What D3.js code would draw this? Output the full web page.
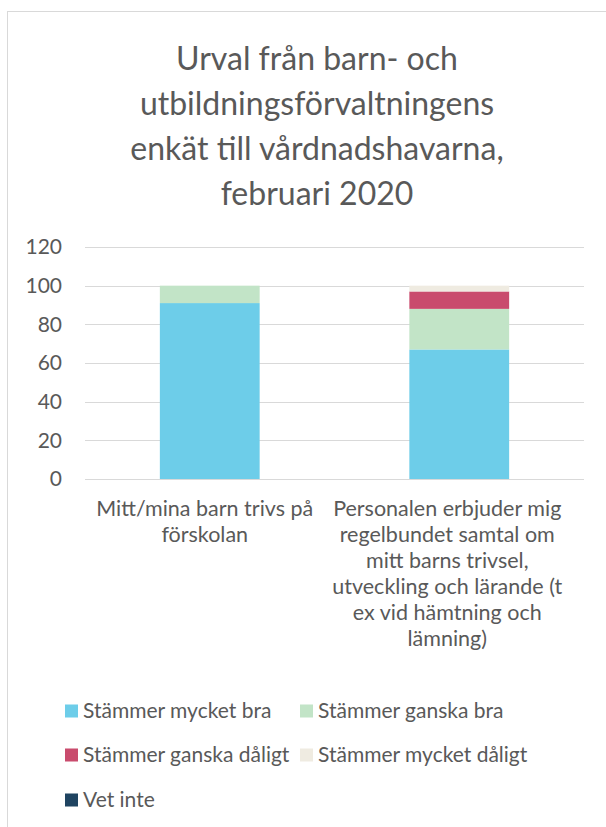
<!DOCTYPE html>
<html>
<head>
<meta charset="utf-8">
<script src="https://cdn.jsdelivr.net/npm/d3@7"></script>
<style>
  html, body { margin: 0; padding: 0; background: #fff; }
  svg { display: block; font-family: Lato, "Open Sans", sans-serif; }
</style>
</head>
<body>
<svg id="chart" width="606" height="827"></svg>
<script>
// ---- data ----
const titleLines = ["Urval från barn- och", "utbildningsförvaltningens", "enkät till vårdnadshavarna,", "februari 2020"];
const categories = ["Mitt/mina barn trivs på förskolan",
  "Personalen erbjuder mig regelbundet samtal om mitt barns trivsel, utveckling och lärande (t ex vid hämtning och lämning)"];
const categoryLines = [
  ["Mitt/mina barn trivs på", "förskolan"],
  ["Personalen erbjuder mig", "regelbundet samtal om", "mitt barns trivsel,", "utveckling och lärande (t", "ex vid hämtning och", "lämning)"]
];
const seriesNames = ["Stämmer mycket bra", "Stämmer ganska bra", "Stämmer ganska dåligt", "Stämmer mycket dåligt", "Vet inte"];
const stammerMycketBra    = [91, 67];
const stammerGanskaBra    = [9, 21];
const stammerGanskaDaligt = [0, 9];
const stammerMycketDaligt = [0, 3];
const vetInte             = [0, 0];
const seriesColors = ["#6DCDE9", "#C2E4C7", "#C94B6D", "#EFEBE1", "#1F4461"];
const yTicks = [0, 20, 40, 60, 80, 100, 120];

// ---- build table ----
const seriesValues = [stammerMycketBra, stammerGanskaBra, stammerGanskaDaligt, stammerMycketDaligt, vetInte];
const table = categories.map((c, i) => {
  const row = { category: c };
  seriesNames.forEach((s, j) => row[s] = seriesValues[j][i]);
  return row;
});

const svg = d3.select("#chart");
const textColor = "#595959";
const gridColor = "#d9d9d9";

// chart frame
svg.append("rect")
  .attr("x", 7.5).attr("y", 11.5)
  .attr("width", 800).attr("height", 900)
  .attr("fill", "none").attr("stroke", gridColor).attr("stroke-width", 1);

// title
const title = svg.append("text")
  .attr("text-anchor", "middle")
  .attr("fill", textColor)
  .style("font-size", "32px");
titleLines.forEach((l, i) => {
  title.append("tspan").attr("x", 317).attr("y", 70 + i * 45).text(l);
});

// scales
const x = d3.scaleBand().domain(categories).range([85, 584]).paddingInner(0.6).paddingOuter(0.3);
const y = d3.scaleLinear().domain([0, 120]).range([479, 247]);

// grid
svg.append("g").selectAll("line").data(yTicks).join("line")
  .attr("x1", 85).attr("x2", 584)
  .attr("y1", d => Math.round(y(d)) + 0.5).attr("y2", d => Math.round(y(d)) + 0.5)
  .attr("stroke", gridColor).attr("stroke-width", 1);

// y axis labels
const yAxis = d3.axisLeft(y).tickValues(yTicks).tickSize(0).tickPadding(0);
const yg = svg.append("g").attr("transform", "translate(62,0)").call(yAxis);
yg.select(".domain").remove();
yg.selectAll("text").attr("fill", textColor).style("font-size", "21px").style("font-family", "Lato, sans-serif");

// stacked bars
const stack = d3.stack().keys(seriesNames);
const stacked = stack(table);
svg.append("g").selectAll("g").data(stacked).join("g")
  .attr("fill", (d, i) => seriesColors[i])
  .selectAll("rect").data(d => d).join("rect")
  .attr("x", d => x(d.data.category))
  .attr("width", x.bandwidth())
  .attr("y", d => y(d[1]))
  .attr("height", d => Math.max(0, y(d[0]) - y(d[1])));

// category labels
const labelShift = [-5, -12];
categories.forEach((c, i) => {
  const t = svg.append("text")
    .attr("text-anchor", "middle")
    .attr("fill", textColor)
    .style("font-size", "21.5px");
  categoryLines[i].forEach((l, k) => {
    t.append("tspan")
      .attr("x", x(c) + x.bandwidth() / 2 + labelShift[i])
      .attr("y", 516 + k * 26)
      .text(l);
  });
});

// legend
const legendPos = [[65, 711], [300, 711], [65, 755], [300, 755], [65, 800]];
const lg = svg.append("g");
seriesNames.forEach((s, i) => {
  const [lx, ly] = legendPos[i];
  lg.append("rect").attr("x", lx).attr("y", ly - 6.5).attr("width", 13).attr("height", 13).attr("fill", seriesColors[i]);
  lg.append("text").attr("x", lx + 18).attr("y", ly).attr("dy", "0.35em")
    .attr("fill", textColor).style("font-size", "21px").text(s);
});
</script>
</body>
</html>
